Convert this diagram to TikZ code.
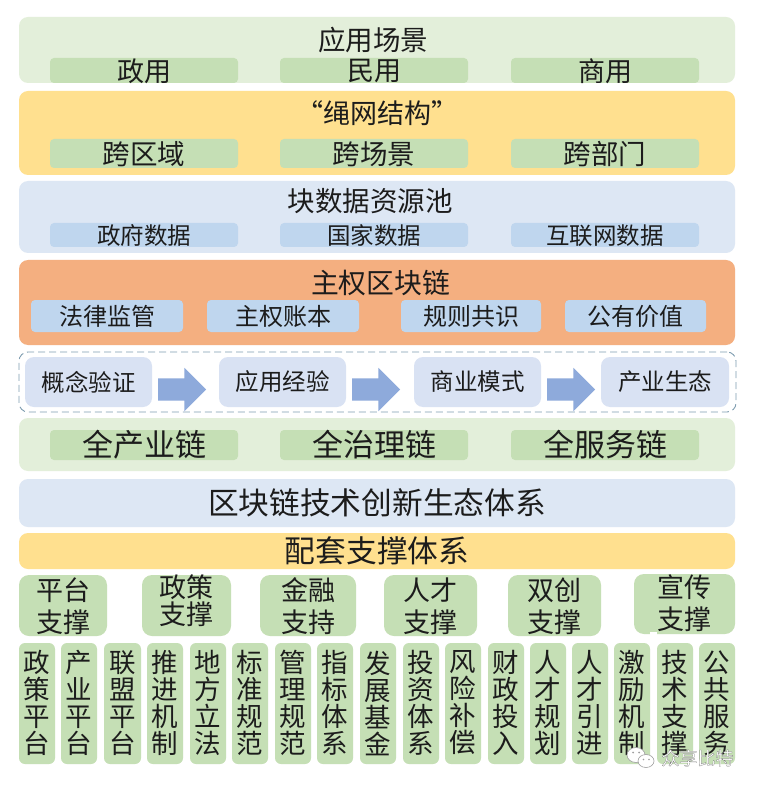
\documentclass[tikz,border=0pt]{standalone}
\usepackage{fontspec}
\setmainfont{Noto Sans CJK SC}
\newfontfamily\wmfont[FakeBold=1.2]{Noto Sans CJK SC}
\usetikzlibrary{shapes.arrows}
\definecolor{bandgreen}{HTML}{E3EFDA}
\definecolor{chipgreen}{HTML}{C5DFB5}
\definecolor{bandyellow}{HTML}{FFE08F}
\definecolor{bandblue}{HTML}{DDE7F4}
\definecolor{chipblue}{HTML}{BFD6EE}
\definecolor{bandorange}{HTML}{F4AF80}
\definecolor{procblue}{HTML}{D9E2F3}
\definecolor{arrowblue}{HTML}{8EAADB}
\definecolor{dashline}{HTML}{7F9DB0}
\definecolor{ink}{HTML}{1C1C1C}
\tikzset{
  panel/.style={rounded corners=#1,inner sep=0pt,outer sep=0pt},
  panel/.default=9pt,
  bgreen/.style={panel=9pt,fill=bandgreen},
  byellow/.style={panel=9pt,fill=bandyellow},
  bblue/.style={panel=9pt,fill=bandblue},
  borange/.style={panel=9pt,fill=bandorange},
  cgreen/.style={panel=4pt,fill=chipgreen},
  cblue/.style={panel=4pt,fill=chipblue},
  cproc/.style={panel=9pt,fill=procblue},
  csup/.style={panel=10pt,fill=chipgreen},
  ccol/.style={panel=6pt,fill=chipgreen},
  label/.style={text=ink,inner sep=0pt,align=center},
  flow/.style={single arrow,fill=arrowblue,inner sep=0pt,outer sep=0pt,
    text height=22pt,text depth=0pt,minimum height=48pt,
    single arrow head extend=10.5pt,single arrow tip angle=90,shape border rotate=0},
  bubble/.style={fill=white,draw=gray!75,line width=0.6pt},
}
% name, x1, y1, x2, y2, style, font size, line pitch, {text centre y}{text}
\newcommand{\bx}[9]{%
  \pgfmathsetmacro{\bw}{#4-#2}\pgfmathsetmacro{\bh}{#5-#3}%
  \pgfmathsetmacro{\bcx}{(#2+#4)/2}\pgfmathsetmacro{\bcy}{(#3+#5)/2}%
  \node[#6,minimum width=\bw pt,minimum height=\bh pt] (#1) at (\bcx,\bcy) {};%
  \bxt{#1}{#7}{#8}{#9}}
\newcommand{\bxt}[4]{\bxtt{#1}{#2}{#3}#4}
\newcommand{\bxtt}[5]{%
  \node[label,font=\fontsize{#2}{#3}\selectfont] (#1-t) at (\bcx,#4) {#5};}
\newcommand{\col}[4]{%
  \bx{#1}{#2}{643}{#3}{764}{ccol}{26.5}{27}{{703}{#4}}}
\begin{document}
\begin{tikzpicture}[x=1pt,y=-1pt]
\useasboundingbox (0,0) rectangle (757,791);
\fill[white] (0,0) rectangle (757,791);
% layer 1
\node[bgreen,minimum width=716pt,minimum height=66pt] (b1) at (377,50) {};
\node[label,font=\fontsize{27.5}{28}\selectfont] (b1-t) at (373,40) {应用场景};
\bx{a1}{50}{58}{238}{83}{cgreen}{27}{27}{{71}{政用}}
\bx{a2}{280}{58}{468}{83}{cgreen}{27}{27}{{71}{民用}}
\bx{a3}{511}{58}{699}{83}{cgreen}{27}{27}{{71}{商用}}
% layer 2
\bx{b2}{19}{91}{735}{175}{byellow}{27}{27}{{113}{“绳网结构”}}
\bx{c1}{50}{139}{238}{168}{cgreen}{27.5}{28}{{154}{跨区域}}
\bx{c2}{280}{139}{468}{168}{cgreen}{27.5}{28}{{154}{跨场景}}
\bx{c3}{511}{139}{699}{168}{cgreen}{27.5}{28}{{154}{跨部门}}
% layer 3
\node[bblue,minimum width=716pt,minimum height=72pt] (b3) at (377,217) {};
\node[label,font=\fontsize{27.5}{28}\selectfont] (b3-t) at (370,201) {块数据资源池};
\bx{d1}{50}{223}{238}{247}{cblue}{23.5}{24}{{236}{政府数据}}
\bx{d2}{280}{223}{468}{247}{cblue}{23.5}{24}{{236}{国家数据}}
\bx{d3}{511}{223}{699}{247}{cblue}{23.5}{24}{{236}{互联网数据}}
% layer 4
\node[borange,minimum width=716pt,minimum height=85pt] (b4) at (377,302.5) {};
\node[label,font=\fontsize{27.8}{28}\selectfont] (b4-t) at (380.5,283) {主权区块链};
\bx{e1}{31}{300}{183}{332}{cblue}{24}{24}{{316}{法律监管}}
\bx{e2}{207}{300}{359}{332}{cblue}{24}{24}{{316}{主权账本}}
\bx{e3}{401}{300}{541}{332}{cblue}{24}{24}{{316}{规则共识}}
\bx{e4}{565}{300}{706}{332}{cblue}{24}{24}{{316}{公有价值}}
% process
\node[draw=dashline,line width=0.9pt,dash pattern=on 7pt off 4pt,rounded corners=9pt,
  minimum width=717pt,minimum height=60pt,inner sep=0pt] (dash) at (377.5,382) {};
\bx{p1}{25}{357}{152}{407}{cproc}{23.5}{24}{{382}{概念验证}}
\bx{p2}{219}{357}{346}{407}{cproc}{23.5}{24}{{382}{应用经验}}
\bx{p3}{414}{357}{541}{407}{cproc}{23.5}{24}{{382}{商业模式}}
\bx{p4}{601}{357}{729}{407}{cproc}{23.5}{24}{{382}{产业生态}}
\node[flow] (f1) at (176.5,389.5) {};
\node[flow] (f2) at (370.5,389.5) {};
\node[flow] (f3) at (565.5,389.5) {};
% layer 6
\node[bgreen,minimum width=716pt,minimum height=53pt] (b6) at (377,444.5) {};
\bx{g1}{50}{430}{238}{460}{cgreen}{31}{31}{{445}{全产业链}}
\bx{g2}{280}{430}{468}{460}{cgreen}{31}{31}{{445}{全治理链}}
\bx{g3}{511}{430}{699}{460}{cgreen}{31}{31}{{445}{全服务链}}
% layer 7, 8
\bx{b7}{19}{479}{735}{527}{bblue}{30.7}{31}{{503}{区块链技术创新生态体系}}
\bx{b8}{19}{533}{735}{569}{byellow}{30.7}{31}{{551}{配套支撑体系}}
% support
\bx{s1}{19}{575}{107}{636}{csup}{27}{32}{{606}{平台\\支撑}}
\bx{s2}{142}{575}{231}{636}{csup}{27}{27}{{601}{政策\\支撑}}
\bx{s3}{260}{575}{356}{636}{csup}{27}{32}{{606}{金融\\支持}}
\bx{s4}{384}{575}{477}{636}{csup}{27}{32}{{606}{人才\\支撑}}
\bx{s5}{508}{575}{601}{636}{csup}{27}{32}{{606}{双创\\支撑}}
\bx{s6}{634}{574}{735}{634}{csup}{27}{32}{{603}{宣传\\支撑}}
% columns
\col{k1}{19}{55}{政\\策\\平\\台}
\col{k2}{61}{97}{产\\业\\平\\台}
\col{k3}{104}{141}{联\\盟\\平\\台}
\col{k4}{147}{183}{推\\进\\机\\制}
\col{k5}{190}{226}{地\\方\\立\\法}
\col{k6}{232}{268}{标\\准\\规\\范}
\col{k7}{275}{311}{管\\理\\规\\范}
\col{k8}{317}{353}{指\\标\\体\\系}
\col{k9}{360}{396}{发\\展\\基\\金}
\col{k10}{403}{439}{投\\资\\体\\系}
\col{k11}{445}{481}{风\\险\\补\\偿}
\col{k12}{488}{524}{财\\政\\投\\入}
\col{k13}{530}{566}{人\\才\\规\\划}
\col{k14}{572}{608}{人\\才\\引\\进}
\col{k15}{614}{650}{激\\励\\机\\制}
\col{k16}{657}{693}{技\\术\\支\\撑}
\col{k17}{699}{735}{公\\共\\服\\务}
% watermark
\fill[white] (650,632) rectangle (657,641);
\path[bubble] (636,755) ellipse (9pt and 7.5pt);
\path[bubble] (646,761) ellipse (8pt and 6.5pt);
\fill[gray!75] (633,752.5) circle (1pt) (639,752.5) circle (1pt) (643.5,759.5) circle (0.8pt) (649,759.5) circle (0.8pt);
\node[inner sep=0pt,font=\wmfont\fontsize{18}{18}\selectfont] (wm) at (697.5,758)
  {\special{pdf:bcolor [1 1 1] [0.45 0.45 0.45]}众享比特\special{pdf:ecolor}};
\end{tikzpicture}
\end{document}
